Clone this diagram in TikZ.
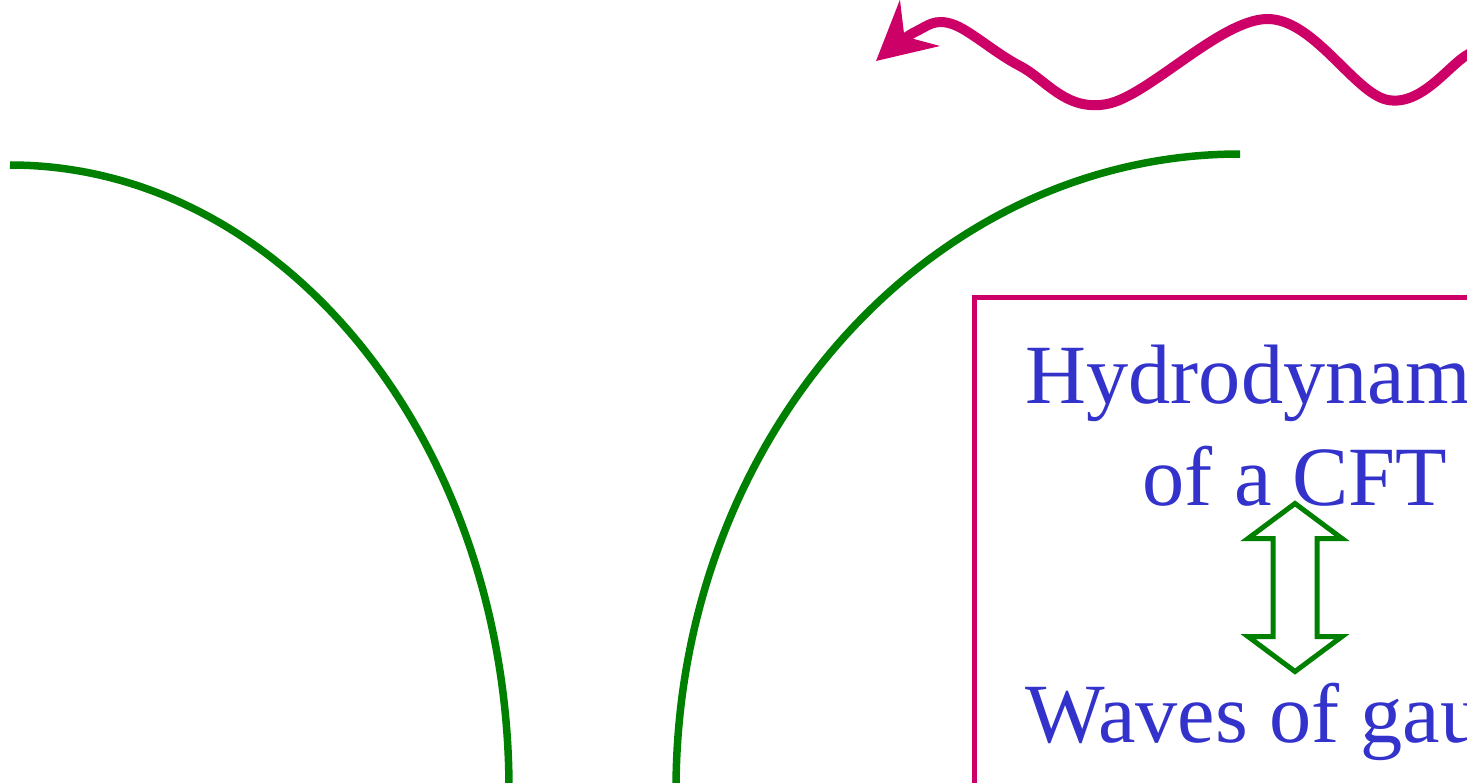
\documentclass[tikz,border=0pt]{standalone}
\usepackage{fontspec}
\setmainfont{Liberation Serif}
\usetikzlibrary{arrows.meta,calc,positioning}
\definecolor{rim}{HTML}{008000}
\definecolor{wine}{HTML}{CC0066}
\definecolor{ink}{HTML}{3333CC}

\begin{document}
\begin{tikzpicture}[x=0.02cm,y=-0.02cm,
  every node/.style={font=\fontsize{48}{58}\selectfont,text=ink,inner sep=0pt},
  horizon/.style={draw=rim,line width=0.15cm},
  wig/.style={draw=wine,line width=0.2cm,line cap=round,line join=round,-{Stealth[length=1.15cm,width=1.2cm,inset=0.4cm]}},
  frame/.style={draw=wine,line width=0.1cm},
  dual/.style={draw=rim,line width=0.1cm,fill=white}]
  \useasboundingbox (0,0) rectangle (1467,782);
  \clip (0,0) rectangle (1467,782);
  % the two bending boundaries
  \draw[horizon] (10,165) arc[start angle=-90,end angle=0,x radius=499,y radius=625];
  \draw[horizon] (1240,154) arc[start angle=-90,end angle=-180,x radius=564,y radius=636];
  % incoming wave
  \coordinate (wavein) at (1500,35);
  \coordinate (wavetip) at (876,61);
  \draw[wig] plot[smooth,tension=0.6] coordinates {(wavein) (1467,55) (1388,100) (1267,19) (1107,104) (1020,66) (952,24) (915,32) (wavetip)};
  % boxed correspondence
  \draw[frame] (974,297) rectangle (1600,900);
  \node[align=center,anchor=north] (hydro) at (1295,345) {Hydrodynamics\\of a CFT};
  \node[anchor=base west] (waves) at (1025,742) {Waves of gauge theory};
  \coordinate (dual) at (1295,587.5);
  \draw[dual] ($(dual)+(0,-84)$) -- ++(47,35) -- ++(-25,0) -- ++(0,98) -- ++(25,0)
    -- ($(dual)+(0,84)$) -- ++(-47,-35) -- ++(25,0) -- ++(0,-98) -- ++(-25,0) -- cycle;
\end{tikzpicture}
\end{document}
